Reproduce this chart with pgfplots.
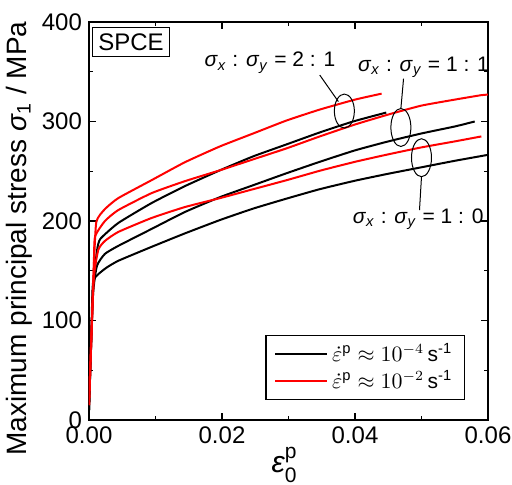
\documentclass[border=0pt]{standalone}
\usepackage{amsmath}
\usepackage{fontspec}
\setmainfont{Liberation Sans}
\usepackage{pgfplots}
\pgfplotsset{compat=1.18}

\begin{document}
\begin{tikzpicture}
\path[use as bounding box] (-44.5pt,-32pt) rectangle (211.5pt,210pt);
\begin{axis}[
  width=199.5pt, height=199pt, scale only axis,
  xmin=0, xmax=0.06, ymin=0, ymax=400,
  xtick={0,0.02,0.04,0.06}, ytick={0,100,200,300,400},
  minor x tick num=1, minor y tick num=1,
  tick align=inside, major tick length=3.5pt, minor tick length=2pt,
  scaled x ticks=false,
  xticklabel style={/pgf/number format/fixed, /pgf/number format/precision=2,
    /pgf/number format/fixed zerofill},
  /pgf/number format/assume math mode=true,
  tick label style={font=\fontsize{12}{14}\selectfont},
  axis line style={line width=0.8pt},
  every tick/.style={black, line width=0.6pt},
  xlabel={$\textit{ε}^{\text{p}}_{\text{0}}$},
  xlabel style={at={(axis description cs:0.49,-0.113)}, anchor=center,
    font=\fontsize{15}{16}\selectfont},
  ylabel={Maximum principal stress \textit{σ}\textsubscript{1} / MPa},
  ylabel style={at={(axis description cs:-0.175,0.456)}, anchor=center,
    font=\fontsize{14}{16}\selectfont},
  legend style={at={(axis description cs:0.942,0.2136)}, anchor=north east,
    draw=black, line width=0.6pt, font=\fontsize{10.5}{12}\selectfont,
    inner xsep=4pt, inner ysep=2pt, row sep=-1pt},
  legend cell align=left,
  legend image code/.code={\draw[#1] (0pt,0pt) -- (26pt,0pt);},
  every axis plot/.append style={line width=1pt, smooth, tension=0.3},
]
% black: strain rate 1e-4
\addplot[black, forget plot] coordinates {
 (0,10) (0.0006,130) (0.0012,170) (0.0017,182) (0.0044,198) (0.0094,218)
 (0.0144,235) (0.0197,251) (0.0247,265) (0.0297,277) (0.0347,289)
 (0.0397,300) (0.0447,309)};
\addplot[black, forget plot] coordinates {
 (0,10) (0.0006,125) (0.0012,155) (0.0024,167) (0.0044,175) (0.0094,192)
 (0.0144,209) (0.0197,224) (0.0247,236) (0.0297,248) (0.0347,259.5)
 (0.0400,271) (0.0450,280) (0.0500,288) (0.0550,295) (0.0580,300)};
\addplot[black, forget plot] coordinates {
 (0,10) (0.0004,100) (0.00065,140) (0.0024,152) (0.0044,160) (0.0094,174)
 (0.0144,187.5) (0.0197,201) (0.0247,212.5) (0.0297,222.5) (0.0347,232)
 (0.0400,240.5) (0.0450,247.5) (0.0500,254) (0.0550,260.5) (0.0600,266.5)};
% red: strain rate 1e-2
\addplot[red, forget plot] coordinates {
 (0,15) (0.0007,150) (0.0011,199) (0.0024,212) (0.0044,223) (0.0094,241)
 (0.0144,259) (0.0197,275) (0.0247,288) (0.0297,301) (0.0347,312)
 (0.0400,322) (0.0440,328)};
\addplot[red, forget plot] coordinates {
 (0,15) (0.0007,150) (0.0009,184) (0.0024,200) (0.0044,211) (0.0094,228)
 (0.0144,240) (0.0197,251) (0.0247,262) (0.0297,273) (0.0347,285)
 (0.0400,297) (0.0450,307) (0.0500,316) (0.0550,322) (0.0590,326.5)
 (0.0600,327)};
\addplot[red, forget plot] coordinates {
 (0,15) (0.0007,140) (0.0014,171) (0.0024,180) (0.0044,189) (0.0094,203)
 (0.0144,214) (0.0197,223) (0.0247,232) (0.0297,241) (0.0347,250.5)
 (0.0400,259.5) (0.0450,267) (0.0500,274) (0.0550,280) (0.0590,285)};

\addlegendimage{black, line width=1pt}
\addlegendentry{$\dot{\varepsilon}^{\mathrm{p}} \approx 10^{-4}\,\mathrm{s}^{\text{-1}}$}
\addlegendimage{red, line width=1pt}
\addlegendentry{$\dot{\varepsilon}^{\mathrm{p}} \approx 10^{-2}\,\mathrm{s}^{\text{-1}}$}

\node[draw, line width=0.6pt, inner xsep=3pt, inner ysep=3pt, anchor=north west,
  font=\fontsize{12}{14}\selectfont] at (axis description cs:0.007,0.988) {SPCE};

\begin{scope}[line width=0.5pt]
\draw (axis cs:0.0384,310.5) ellipse [x radius=5pt, y radius=8.5pt];
\draw (axis cs:0.0347,346.7) -- (axis cs:0.0375,320);
\draw (axis cs:0.0469,294) ellipse [x radius=5pt, y radius=9.5pt];
\draw (axis cs:0.0473,343) -- (axis cs:0.0469,313);
\draw (axis cs:0.0500,263.6) ellipse [x radius=5pt, y radius=9.5pt];
\draw (axis cs:0.0500,244.5) -- (axis cs:0.0497,211);
\end{scope}

\node[font=\fontsize{10.5}{12}\selectfont] at (axis cs:0.0272,359)
  {\textit{σ}\textsubscript{\textit{x}} : \textit{σ}\textsubscript{\textit{y}} = 2 : 1};
\node[font=\fontsize{10.5}{12}\selectfont] at (axis cs:0.0503,354.5)
  {\textit{σ}\textsubscript{\textit{x}} : \textit{σ}\textsubscript{\textit{y}} = 1 : 1};
\node[font=\fontsize{10.5}{12}\selectfont] at (axis cs:0.0495,201.7)
  {\textit{σ}\textsubscript{\textit{x}} : \textit{σ}\textsubscript{\textit{y}} = 1 : 0};
\end{axis}
\end{tikzpicture}
\end{document}
